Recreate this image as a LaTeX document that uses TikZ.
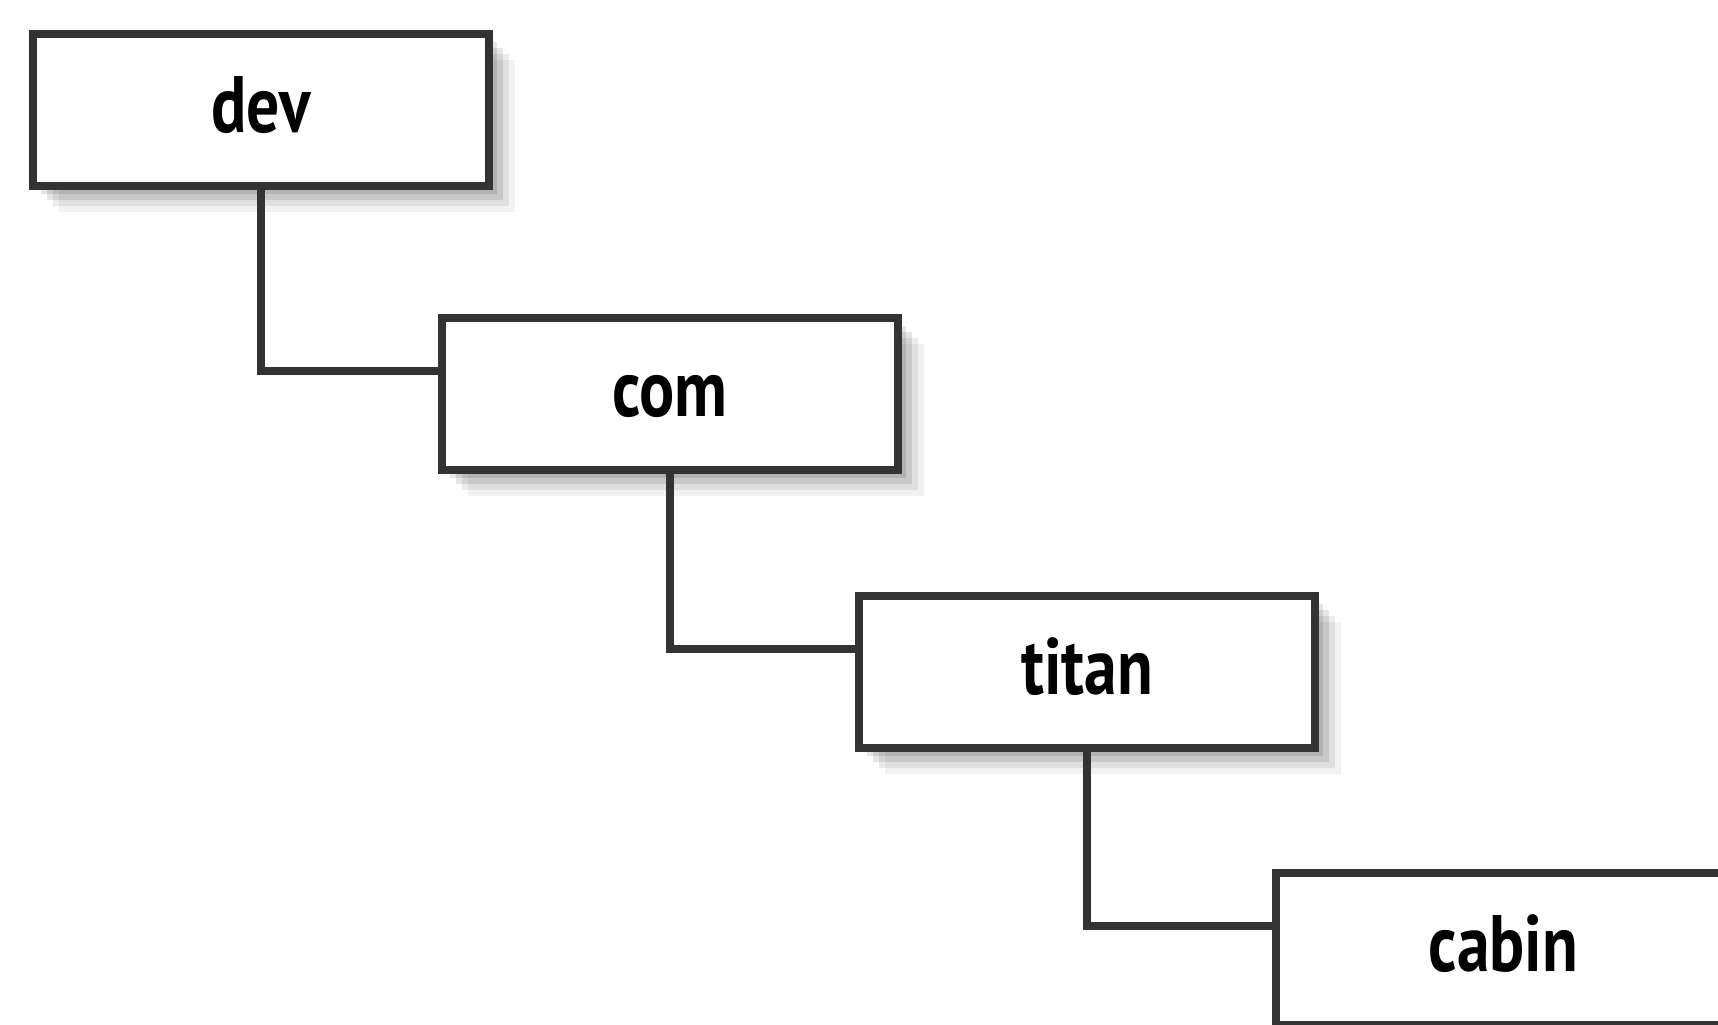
\documentclass[tikz,border=0pt]{standalone}
\usepackage{fontspec}
\newfontfamily\dirfont{PT Sans}[FakeStretch=0.82]
\usetikzlibrary{calc,shadows}
\tikzset{
  dirshadow/.style={
    drop shadow={fill=black,opacity=.10,shadow xshift=2pt,shadow yshift=-2pt},
    drop shadow={fill=black,opacity=.10,shadow xshift=3.5pt,shadow yshift=-3.5pt},
    drop shadow={fill=black,opacity=.08,shadow xshift=5pt,shadow yshift=-5pt},
    drop shadow={fill=black,opacity=.05,shadow xshift=6.5pt,shadow yshift=-6.5pt}},
  dirbox/.style={draw=black!80,line width=2pt,fill=white,dirshadow,
    minimum width=114pt,minimum height=38pt,inner sep=0pt,
    text height=11.25pt,text depth=0pt,
    font=\dirfont\bfseries\fontsize{20}{24}\selectfont},
  link/.style={draw=black!80,line width=2pt},
}
\begin{document}
\begin{tikzpicture}[x=0.25pt,y=-0.25pt]
\useasboundingbox (0,0) rectangle (1718,1025);
\fill[white] (0,0) rectangle (1718,1025);
\clip (0,0) rectangle (1718,1025);
% Directory boxes
\node[dirbox] (dev) at (261,110) {dev};
\node[dirbox] (com) at (670,394.5) {com};
\node[dirbox] (titan) at (1087,672) {titan};
\node[dirbox] (cabin) at (1503.5,949) {cabin};
% Links between levels
\draw[link] (dev.south) |- ($(com.north west)!0.355!(com.south west)$);
\draw[link] (com.south) |- ($(titan.north west)!0.355!(titan.south west)$);
\draw[link] (titan.south) |- ($(cabin.north west)!0.355!(cabin.south west)$);
\end{tikzpicture}
\end{document}
